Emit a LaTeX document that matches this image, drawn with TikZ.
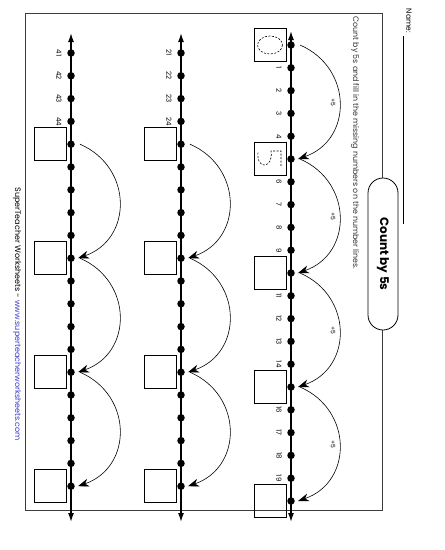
\documentclass[tikz,border=0pt]{standalone}
\usepackage{fontspec}
\setmainfont{Poppins}
\usetikzlibrary{arrows.meta,calc}
\definecolor{urlblue}{RGB}{60,60,200}
\definecolor{framegray}{RGB}{60,60,60}
\begin{document}
\begin{tikzpicture}[x=1pt,y=-1pt,
  numline/.style={line width=1.4pt, {Latex[length=9pt,width=6pt]}-{Latex[length=9pt,width=6pt]}},
  dotnode/.style={circle, fill=black, inner sep=0pt, minimum size=7.5pt},
  ansbox/.style={draw, line width=1pt, minimum width=32pt, minimum height=33pt, inner sep=0pt},
  numlab/.style={rotate=-90, font=\fontsize{7}{8}\selectfont, inner sep=0pt},
  hop/.style={line width=0.6pt, -{Stealth[length=11pt,width=8pt]}},
  hoplab/.style={rotate=-90, font=\fontsize{6}{7}\selectfont, inner sep=0pt},
  vtext/.style={rotate=-90, inner sep=0pt},
  trace/.style={line width=0.6pt, dash pattern=on 2pt off 1.5pt}
]
\useasboundingbox (0,0) rectangle (445,550);
% frame
\draw[framegray, line width=0.8pt] (25,13) rectangle (382,510);
% title capsule
\node[draw, fill=white, line width=0.8pt, rounded corners=15pt, minimum width=152pt, minimum height=30pt, rotate=-90,
      font=\fontsize{12}{14}\selectfont\bfseries] (title) at (383,254) {Count by 5s};
% name
\node[vtext, font=\fontsize{7.5}{9}\selectfont] (name) at (409,21) {Name:};
\coordinate (nl1) at (403,36);
\coordinate (nl2) at (403,224);
\draw[line width=0.5pt] (nl1) -- (nl2);
% instructions
\node[vtext, font=\fontsize{7.9}{9}\selectfont, text=black!80] (instr) at (355,143) {Count by 5s and fill in the missing numbers on the number lines.};
% footer
\node[vtext, font=\fontsize{8}{9}\selectfont] (foot) at (17,314) {SuperTeacher Worksheets - \textcolor{urlblue}{www.superteacherworksheets.com}};

% ---------- number line 1 (0..20)
\coordinate (t1) at (291,31);
\coordinate (e1) at (291,522);
\draw[numline] (t1) -- (e1);
\foreach \i in {0,...,20} \node[dotnode] (a\i) at (291,45+22.8*\i) {};
\foreach \i in {1,2,3,4,6,7,8,9,11,12,13,14,16,17,18,19}
  \node[numlab] at ($(a\i)+(-12,0)$) {\i};
\foreach \i in {0,5,10,15,20} \node[ansbox] (b\i) at ($(a\i)+(-21,0)$) {};
\foreach \s/\e in {0/5,5/10,10/15,15/20}{
  \draw[hop] ([xshift=9pt]a\s.center) .. controls +(53,23) and +(55,-19) .. ([xshift=7pt]a\e.center);
  \node[hoplab] at ($(a\s)!0.5!(a\e)+(42,0)$) {+5};
}
% traced answers
\draw[trace] (b0.center) ellipse [x radius=12.5, y radius=9];
\draw[trace] ($(b5.center)+(11,7)$) -- ($(b5.center)+(11,-8)$) -- ($(b5.center)+(1,-8)$)
   .. controls ($(b5.center)+(4,9)$) and ($(b5.center)+(-14,12)$) .. ($(b5.center)+(-12,-7)$);

% ---------- number line 2 (21..40)
\coordinate (t2) at (181,33);
\coordinate (e2) at (181,522);
\draw[numline] (t2) -- (e2);
\foreach \i in {21,...,40} \node[dotnode] (c\i) at (181,53+22.8*\i-22.8*21) {};
\foreach \i in {21,22,23,24} \node[numlab] at ($(c\i)+(-12,0)$) {\i};
\foreach \i in {25,30,35,40} \node[ansbox] (d\i) at ($(c\i)+(-21,0)$) {};
\foreach \s/\e in {25/30,30/35,35/40}{
  \draw[hop] ([xshift=9pt]c\s.center) .. controls +(53,23) and +(55,-19) .. ([xshift=7pt]c\e.center);
}

% ---------- number line 3 (41..60)
\coordinate (t3) at (71,33);
\coordinate (e3) at (71,522);
\draw[numline] (t3) -- (e3);
\foreach \i in {41,...,60} \node[dotnode] (f\i) at (71,53+22.8*\i-22.8*41) {};
\foreach \i in {41,42,43,44} \node[numlab] at ($(f\i)+(-12,0)$) {\i};
\foreach \i in {45,50,55,60} \node[ansbox] (g\i) at ($(f\i)+(-21,0)$) {};
\foreach \s/\e in {45/50,50/55,55/60}{
  \draw[hop] ([xshift=9pt]f\s.center) .. controls +(53,23) and +(55,-19) .. ([xshift=7pt]f\e.center);
}
\end{tikzpicture}
\end{document}
